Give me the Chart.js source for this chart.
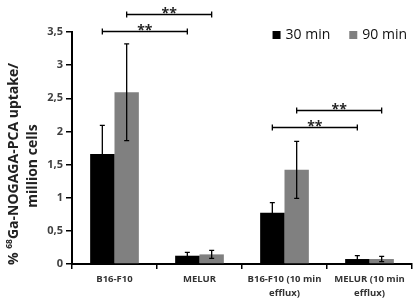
<!DOCTYPE html>
<html>
<head>
<meta charset="utf-8">
<script src="https://cdn.jsdelivr.net/npm/chart.js@4.4.0/dist/chart.umd.min.js"></script>
<style>
  html, body { margin: 0; padding: 0; background: #fff; }
  #wrap { width: 417px; height: 299px; }
</style>
</head>
<body>
<div id="wrap"><canvas id="uptakeChart"></canvas></div>
<script>
const categories = ["B16-F10", "MELUR", ["B16-F10 (10 min", "efflux)"], ["MELUR (10 min", "efflux)"]];
const seriesNames = ["30 min", "90 min"];
const uptake30 = [1.66, 0.125, 0.775, 0.075];
const uptake90 = [2.59, 0.145, 1.42, 0.075];
const err30 = [0.43, 0.05, 0.15, 0.05];
const err90 = [0.73, 0.06, 0.43, 0.04];
const yTicks = [0, 0.5, 1, 1.5, 2, 2.5, 3, 3.5];

// significance brackets: [category, dataset] -> [category, dataset] at a level
const sigFrom = [[0, 0], [0, 1], [2, 1], [2, 0]];
const sigTo = [[1, 0], [1, 1], [3, 1], [3, 0]];
const sigLevel = [3.51, 3.77, 2.33, 2.07];
const sigLabel = ["**", "**", "**", "**"];

const FONT = "'Open Sans', sans-serif";

const errorBars = {
  id: "errorBars",
  afterDatasetsDraw(chart) {
    const ctx = chart.ctx;
    const y = chart.scales.y;
    ctx.save();
    ctx.strokeStyle = "#000";
    ctx.lineWidth = 1.3;
    chart.data.datasets.forEach((ds, i) => {
      chart.getDatasetMeta(i).data.forEach((bar, j) => {
        const top = y.getPixelForValue(ds.data[j] + ds.errors[j]);
        const bot = y.getPixelForValue(ds.data[j] - ds.errors[j]);
        ctx.beginPath();
        ctx.moveTo(bar.x, top); ctx.lineTo(bar.x, bot);
        ctx.moveTo(bar.x - 2.5, top); ctx.lineTo(bar.x + 2.5, top);
        ctx.moveTo(bar.x - 2.5, bot); ctx.lineTo(bar.x + 2.5, bot);
        ctx.stroke();
      });
    });
    ctx.restore();
  }
};

const sigBrackets = {
  id: "sigBrackets",
  afterDraw(chart) {
    const ctx = chart.ctx;
    const y = chart.scales.y;
    ctx.save();
    ctx.strokeStyle = "#000";
    ctx.fillStyle = "#222";
    ctx.lineWidth = 1.3;
    ctx.font = "bold 14px " + FONT;
    ctx.textAlign = "center";
    ctx.textBaseline = "alphabetic";
    sigLevel.forEach((lvl, k) => {
      const x1 = chart.getDatasetMeta(sigFrom[k][1]).data[sigFrom[k][0]].x;
      const x2 = chart.getDatasetMeta(sigTo[k][1]).data[sigTo[k][0]].x;
      const py = Math.round(y.getPixelForValue(lvl)) + 0.5;
      ctx.beginPath();
      ctx.moveTo(x1, py); ctx.lineTo(x2, py);
      ctx.moveTo(x1, py - 3); ctx.lineTo(x1, py + 3);
      ctx.moveTo(x2, py - 3); ctx.lineTo(x2, py + 3);
      ctx.stroke();
      ctx.fillText(sigLabel[k], (x1 + x2) / 2, py + 3);
    });
    ctx.restore();
  }
};

const boxLegend = {
  id: "boxLegend",
  afterDraw(chart) {
    const ctx = chart.ctx;
    const area = chart.chartArea;
    ctx.save();
    ctx.font = "14px " + FONT;
    ctx.textBaseline = "middle";
    ctx.textAlign = "left";
    const cy = area.top + 3;
    let x = area.right - 5;
    const items = chart.data.datasets.map(ds => ({ label: ds.label, color: ds.backgroundColor }));
    for (let i = items.length - 1; i >= 0; i--) {
      const w = ctx.measureText(items[i].label).width;
      const tx = x - w;
      ctx.fillStyle = "#111";
      ctx.fillText(items[i].label, tx, cy);
      ctx.fillStyle = items[i].color;
      ctx.fillRect(tx - 13, cy - 4, 8, 8);
      x = tx - 13 - 19;
    }
    ctx.restore();
  }
};

const yTitle = {
  id: "yTitle",
  afterDraw(chart) {
    const ctx = chart.ctx;
    const area = chart.chartArea;
    const cy = (area.top + area.bottom) / 2 + 16;
    ctx.save();
    ctx.fillStyle = "#222";
    ctx.textBaseline = "middle";
    // line 1 with superscript mass number
    ctx.translate(14, cy);
    ctx.rotate(-Math.PI / 2);
    const big = "bold 14px " + FONT, small = "bold 8.5px " + FONT;
    const parts = [["% ", big, 0], ["68", small, -4.5], ["Ga-NOGAGA-PCA uptake/", big, 0]];
    let total = 0;
    parts.forEach(p => { ctx.font = p[1]; total += ctx.measureText(p[0]).width; });
    let x = -total / 2;
    ctx.textAlign = "left";
    parts.forEach(p => {
      ctx.font = p[1];
      ctx.fillText(p[0], x, p[2]);
      x += ctx.measureText(p[0]).width;
    });
    ctx.font = big;
    ctx.textAlign = "center";
    ctx.fillText("million cells", -2, 19);
    ctx.restore();
  }
};

new Chart(document.getElementById("uptakeChart"), {
  type: "bar",
  data: {
    labels: categories,
    datasets: [
      { label: seriesNames[0], data: uptake30, errors: err30, backgroundColor: "#000000" },
      { label: seriesNames[1], data: uptake90, errors: err90, backgroundColor: "#808080" },
    ],
  },
  options: {
    responsive: true,
    maintainAspectRatio: false,
    animation: false,
    layout: { padding: { top: 32, right: 5, left: 0, bottom: 0 } },
    datasets: { bar: { categoryPercentage: 0.573, barPercentage: 1 } },
    plugins: {
      legend: { display: false },
      tooltip: { enabled: false },
    },
    scales: {
      x: {
        grid: { drawOnChartArea: false, tickLength: 5, color: "#000", lineWidth: 1.5, offset: true },
        border: { color: "#000", width: 2 },
        ticks: { font: { family: FONT, size: 9.5, weight: "bold", lineHeight: 1.4 }, color: "#333", padding: 4, maxRotation: 0, autoSkip: false },
        afterFit(scale) { scale.height = 35; },
      },
      y: {
        min: 0,
        max: 3.5,
        grid: { drawOnChartArea: false, tickLength: 6, color: "#000", lineWidth: 1.5 },
        border: { color: "#000", width: 2 },
        ticks: {
          font: { family: FONT, size: 11, weight: "bold" },
          color: "#404040",
          padding: 3,
          callback: v => String(v).replace(".", ","),
        },
        afterBuildTicks(scale) { scale.ticks = yTicks.map(v => ({ value: v })); },
        afterFit(scale) { scale.width = 72; },
      },
    },
  },
  plugins: [errorBars, sigBrackets, boxLegend, yTitle],
});
</script>
</body>
</html>
